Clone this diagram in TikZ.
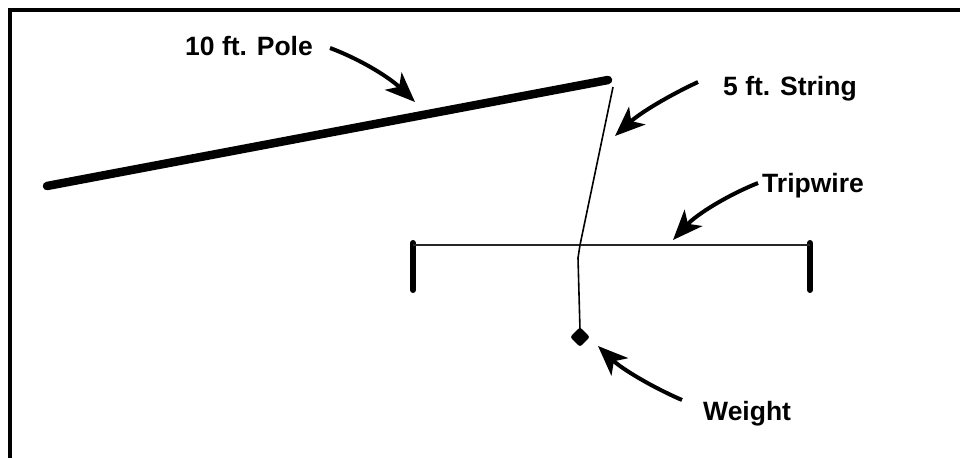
\documentclass[tikz,border=0pt]{standalone}
\usepackage{fontspec}
\setmainfont{Liberation Sans}
\usetikzlibrary{arrows.meta}
\begin{document}
\begin{tikzpicture}[x=1pt,y=1pt,
  lbl/.style={font=\fontsize{26.5}{29}\selectfont\bfseries, anchor=base west, inner sep=0pt},
  callout/.style={line width=4pt, -{Stealth[length=30pt,width=24pt,inset=8pt]}},
  polestyle/.style={line width=8.5pt, line cap=round},
  poststyle/.style={line width=6pt, line cap=round},
  stringstyle/.style={line width=1.6pt},
  wirestyle/.style={line width=2pt, draw=black!85}]
\fill[white] (0,0) rectangle (960,-458);
\useasboundingbox (0,0) rectangle (960,-458);
% frame
\draw[line width=4pt] (10,-458) -- (10,-10) -- (960,-10);
% pole
\coordinate (poleL) at (47,-186);
\coordinate (poleR) at (608,-80);
\draw[polestyle] (poleL) -- (poleR);
% tripwire
\coordinate (postL) at (413,-243);
\coordinate (postLb) at (413,-290);
\coordinate (postR) at (810,-243);
\coordinate (postRb) at (810,-290);
\draw[poststyle] (postL) -- (postLb);
\draw[poststyle] (postR) -- (postRb);
\draw[wirestyle] (postL |- 0,-245) -- (postR |- 0,-245);
% string
\coordinate (strTop) at (613,-87);
\coordinate (strX) at (580,-245);
\coordinate (strBot) at (580,-330);
\draw[stringstyle] (strTop) -- (strX) -- (578,-258) -- (strBot);
% weight
\node[fill=black, shape=rectangle, rotate=45, minimum size=14pt, inner sep=0pt, rounded corners=2.5pt] (weight) at (580,-337) {};
% labels
\node[lbl] (tPole) at (185,-55) {10 ft. Pole};
\node[lbl] (tString) at (723,-95) {5 ft. String};
\node[lbl] (tWire) at (762,-192) {Tripwire};
\node[lbl] (tWeight) at (703,-420) {Weight};
% callout arrows
\draw[callout] (330,-48) .. controls (362,-60) and (390,-78) .. (415,-102);
\draw[callout] (698,-82) .. controls (668,-96) and (640,-113) .. (615,-136);
\draw[callout] (758,-183) .. controls (728,-195) and (697,-214) .. (673,-240);
\draw[callout] (682,-400) .. controls (652,-387) and (622,-369) .. (598,-346);
\end{tikzpicture}
\end{document}
